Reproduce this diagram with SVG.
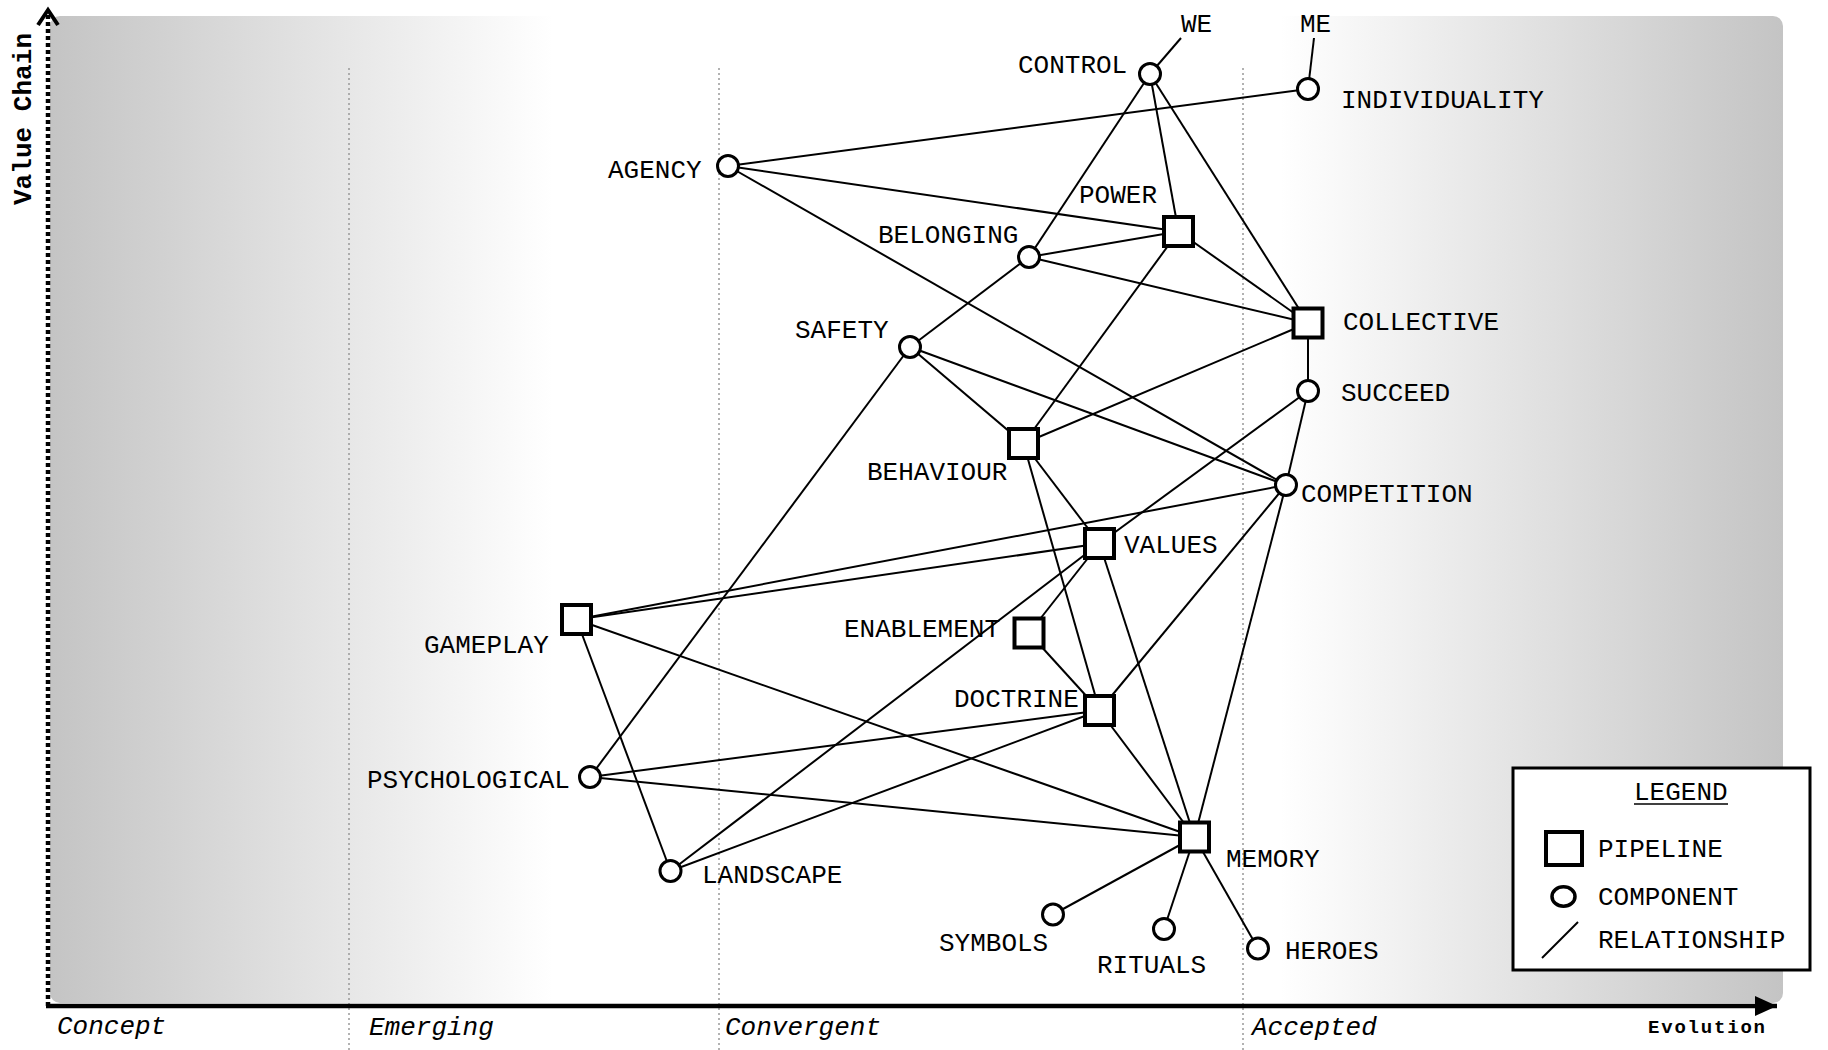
<svg xmlns="http://www.w3.org/2000/svg" width="1828" height="1050" viewBox="0 0 1828 1050">
<defs>
<linearGradient id="bg" x1="0" y1="0" x2="1" y2="0">
<stop offset="0" stop-color="#c4c4c4"/>
<stop offset="0.29" stop-color="#ffffff"/>
<stop offset="0.71" stop-color="#ffffff"/>
<stop offset="1" stop-color="#c4c4c4"/>
</linearGradient>
<marker id="xarrow" markerWidth="24" markerHeight="20" refX="22" refY="10" orient="auto" markerUnits="userSpaceOnUse">
<path d="M0,0 L22,10 L0,20 z" fill="#000"/>
</marker>
</defs>
<style>
text{font-family:"Liberation Mono","Courier New",monospace;font-size:26px;fill:#000}
.stage{font-style:italic}
.axis{font-weight:bold}
.grid{stroke:#999;stroke-width:1.5;stroke-dasharray:2,3;fill:none}
.edge{stroke:#000;stroke-width:2;fill:none}
.comp{fill:#fff;stroke:#000;stroke-width:3}
.pipe{fill:#fff;stroke:#000;stroke-width:4}
</style>
<rect x="50" y="16" width="1733" height="987" rx="10" fill="url(#bg)"/>
<g id="grid">
<line class="grid" x1="349" y1="68" x2="349" y2="1050"/>
<line class="grid" x1="719" y1="68" x2="719" y2="1050"/>
<line class="grid" x1="1243" y1="68" x2="1243" y2="1050"/>
</g>
<g id="axes">
<line x1="48" y1="1006" x2="48" y2="12" stroke="#000" stroke-width="4.5" stroke-dasharray="4,3"/>
<polyline points="38,25 48,10 58,25" fill="none" stroke="#000" stroke-width="4"/>
<line x1="46" y1="1006" x2="1777" y2="1006" stroke="#000" stroke-width="4.5" marker-end="url(#xarrow)"/>
<text class="axis" x="31" y="205" transform="rotate(-90 31 205)" textLength="172" lengthAdjust="spacing">Value Chain</text>
<text class="axis" x="1648" y="1033" font-size="19" style="font-size:19px" textLength="117" lengthAdjust="spacing">Evolution</text>
<text class="stage" x="57" y="1034">Concept</text>
<text class="stage" x="369" y="1035">Emerging</text>
<text class="stage" x="725" y="1035">Convergent</text>
<text class="stage" x="1252" y="1035">Accepted</text>
</g>
<g id="connectors">
<line class="edge" x1="1150" y1="74" x2="1181" y2="38"/>
<line class="edge" x1="1308" y1="89" x2="1314" y2="38"/>
<line class="edge" x1="728" y1="166" x2="1308" y2="89"/>
<line class="edge" x1="728" y1="166" x2="1178.5" y2="231.5"/>
<line class="edge" x1="728" y1="166" x2="1286" y2="485"/>
<line class="edge" x1="1150" y1="74" x2="1029" y2="257"/>
<line class="edge" x1="1150" y1="74" x2="1178.5" y2="231.5"/>
<line class="edge" x1="1150" y1="74" x2="1308" y2="323"/>
<line class="edge" x1="1029" y1="257" x2="1178.5" y2="231.5"/>
<line class="edge" x1="1029" y1="257" x2="1308" y2="323"/>
<line class="edge" x1="1178.5" y1="231.5" x2="1308" y2="323"/>
<line class="edge" x1="1029" y1="257" x2="910" y2="347"/>
<line class="edge" x1="1178.5" y1="231.5" x2="1023.5" y2="443.5"/>
<line class="edge" x1="1308" y1="323" x2="1023.5" y2="443.5"/>
<line class="edge" x1="1308" y1="323" x2="1308" y2="391"/>
<line class="edge" x1="910" y1="347" x2="1023.5" y2="443.5"/>
<line class="edge" x1="910" y1="347" x2="1286" y2="485"/>
<line class="edge" x1="910" y1="347" x2="590" y2="777"/>
<line class="edge" x1="1308" y1="391" x2="1286" y2="485"/>
<line class="edge" x1="1308" y1="391" x2="1099.5" y2="543.5"/>
<line class="edge" x1="1023.5" y1="443.5" x2="1099.5" y2="543.5"/>
<line class="edge" x1="1023.5" y1="443.5" x2="1099.5" y2="710.5"/>
<line class="edge" x1="1286" y1="485" x2="576.5" y2="619.5"/>
<line class="edge" x1="1099.5" y1="543.5" x2="576.5" y2="619.5"/>
<line class="edge" x1="1099.5" y1="543.5" x2="1029" y2="633"/>
<line class="edge" x1="1099.5" y1="543.5" x2="670.5" y2="871"/>
<line class="edge" x1="1099.5" y1="543.5" x2="1194.5" y2="837"/>
<line class="edge" x1="1029" y1="633" x2="1099.5" y2="710.5"/>
<line class="edge" x1="1099.5" y1="710.5" x2="1286" y2="485"/>
<line class="edge" x1="1099.5" y1="710.5" x2="590" y2="777"/>
<line class="edge" x1="1099.5" y1="710.5" x2="670.5" y2="871"/>
<line class="edge" x1="1099.5" y1="710.5" x2="1194.5" y2="837"/>
<line class="edge" x1="1286" y1="485" x2="1194.5" y2="837"/>
<line class="edge" x1="576.5" y1="619.5" x2="1194.5" y2="837"/>
<line class="edge" x1="576.5" y1="619.5" x2="670.5" y2="871"/>
<line class="edge" x1="590" y1="777" x2="1194.5" y2="837"/>
<line class="edge" x1="1194.5" y1="837" x2="1053" y2="914.5"/>
<line class="edge" x1="1194.5" y1="837" x2="1164" y2="929"/>
<line class="edge" x1="1194.5" y1="837" x2="1258" y2="948.5"/>
</g>
<g id="we"><text x="1181" y="32">WE</text></g>
<g id="me"><text x="1300" y="32">ME</text></g>
<g id="control"><circle class="comp" cx="1150" cy="74" r="10.5"/><text x="1018" y="73">CONTROL</text></g>
<g id="individuality"><circle class="comp" cx="1308" cy="89" r="10.5"/><text x="1341" y="108">INDIVIDUALITY</text></g>
<g id="agency"><circle class="comp" cx="728" cy="166" r="10.5"/><text x="608" y="178">AGENCY</text></g>
<g id="power"><rect class="pipe" x="1164" y="217" width="29" height="29"/><text x="1079" y="203">POWER</text></g>
<g id="belonging"><circle class="comp" cx="1029" cy="257" r="10.5"/><text x="878" y="243">BELONGING</text></g>
<g id="collective"><rect class="pipe" x="1293.5" y="308.5" width="29" height="29"/><text x="1343" y="330">COLLECTIVE</text></g>
<g id="safety"><circle class="comp" cx="910" cy="347" r="10.5"/><text x="795" y="338">SAFETY</text></g>
<g id="succeed"><circle class="comp" cx="1308" cy="391" r="10.5"/><text x="1341" y="401">SUCCEED</text></g>
<g id="behaviour"><rect class="pipe" x="1009" y="429" width="29" height="29"/><text x="867" y="480">BEHAVIOUR</text></g>
<g id="competition"><circle class="comp" cx="1286" cy="485" r="10.5"/><text x="1301" y="502">COMPETITION</text></g>
<g id="values"><rect class="pipe" x="1085" y="529" width="29" height="29"/><text x="1124" y="553">VALUES</text></g>
<g id="enablement"><rect class="pipe" x="1014.5" y="618.5" width="29" height="29"/><text x="844" y="637">ENABLEMENT</text></g>
<g id="gameplay"><rect class="pipe" x="562" y="605" width="29" height="29"/><text x="424" y="653">GAMEPLAY</text></g>
<g id="doctrine"><rect class="pipe" x="1085" y="696" width="29" height="29"/><text x="954" y="707">DOCTRINE</text></g>
<g id="psychological"><circle class="comp" cx="590" cy="777" r="10.5"/><text x="367" y="788">PSYCHOLOGICAL</text></g>
<g id="memory"><rect class="pipe" x="1180" y="822.5" width="29" height="29"/><text x="1226" y="867">MEMORY</text></g>
<g id="landscape"><circle class="comp" cx="670.5" cy="871" r="10.5"/><text x="702" y="883">LANDSCAPE</text></g>
<g id="symbols"><circle class="comp" cx="1053" cy="914.5" r="10.5"/><text x="939" y="951">SYMBOLS</text></g>
<g id="rituals"><circle class="comp" cx="1164" cy="929" r="10.5"/><text x="1097" y="973">RITUALS</text></g>
<g id="heroes"><circle class="comp" cx="1258" cy="948.5" r="10.5"/><text x="1285" y="959">HEROES</text></g>
<g id="legend">
<rect x="1513" y="768" width="297" height="202" fill="#fff" stroke="#000" stroke-width="3"/>
<text x="1634" y="800">LEGEND</text>
<line x1="1634" y1="804" x2="1728" y2="804" stroke="#000" stroke-width="1.5"/>
<rect x="1546" y="832" width="36" height="33" fill="#fff" stroke="#000" stroke-width="4"/>
<text x="1598" y="857">PIPELINE</text>
<ellipse cx="1563.5" cy="896.5" rx="11.5" ry="9.8" fill="#fff" stroke="#000" stroke-width="3.5"/>
<text x="1598" y="905">COMPONENT</text>
<line x1="1542" y1="958" x2="1578" y2="922" stroke="#000" stroke-width="2"/>
<text x="1598" y="948">RELATIONSHIP</text>
</g>
</svg>
